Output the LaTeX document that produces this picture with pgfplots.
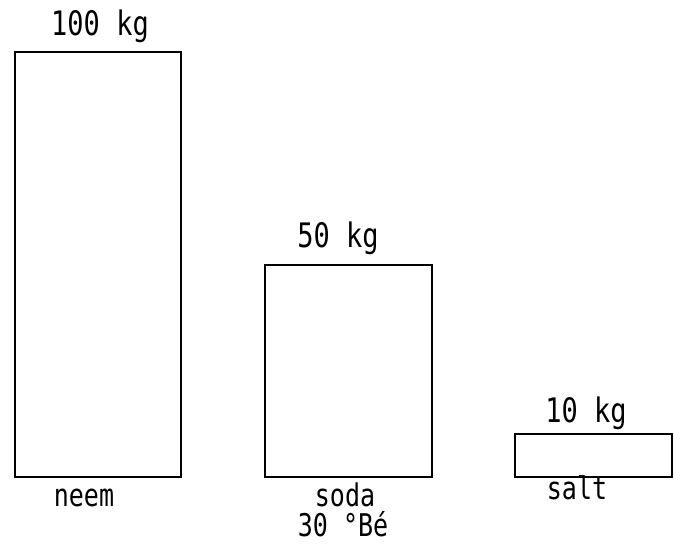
\documentclass[border=0pt]{standalone}
\usepackage{fontspec}
\setmainfont{DejaVu Sans Mono}
\usepackage{pgfplots}
\pgfplotsset{compat=1.18}
\newcommand{\lbl}[1]{\scalebox{1}[1.25]{#1}}
\begin{document}
\begin{tikzpicture}
\begin{axis}[
  scale only axis, width=674pt, height=552pt,
  xmin=0, xmax=674, ymin=-17.65, ymax=112.24,
  hide axis, clip=false,
]
\path (rel axis cs:0,0) rectangle (rel axis cs:1,1);
\addplot[ybar, bar width=166, bar shift=0pt, draw=black, line width=2pt, fill=none] coordinates {(98,100)};
\addplot[ybar, bar width=167, bar shift=0pt, draw=black, line width=2pt, fill=none] coordinates {(348.5,50)};
\addplot[ybar, bar width=157, bar shift=0pt, draw=black, line width=2pt, fill=none] coordinates {(593.5,10.1)};
\node[anchor=base, font=\fontsize{27}{30}\selectfont, inner sep=0pt] at (axis cs:100,104) {\lbl{100 kg}};
\node[anchor=base, font=\fontsize{27}{30}\selectfont, inner sep=0pt] at (axis cs:338,53.9) {\lbl{50 kg}};
\node[anchor=base, font=\fontsize{27}{30}\selectfont, inner sep=0pt] at (axis cs:586,12.9) {\lbl{10 kg}};
\node[anchor=base, font=\fontsize{25}{30}\selectfont, inner sep=0pt] at (axis cs:84,-7.06) {\lbl{neem}};
\node[anchor=base, font=\fontsize{25}{30}\selectfont, inner sep=0pt] at (axis cs:345,-7.06) {\lbl{soda}};
\node[anchor=base, font=\fontsize{25}{30}\selectfont, inner sep=0pt] at (axis cs:343,-14.1) {\lbl{30 °Bé}};
\node[anchor=base, font=\fontsize{25}{30}\selectfont, inner sep=0pt] at (axis cs:577,-5.4) {\lbl{salt}};
\end{axis}
\end{tikzpicture}
\end{document}
